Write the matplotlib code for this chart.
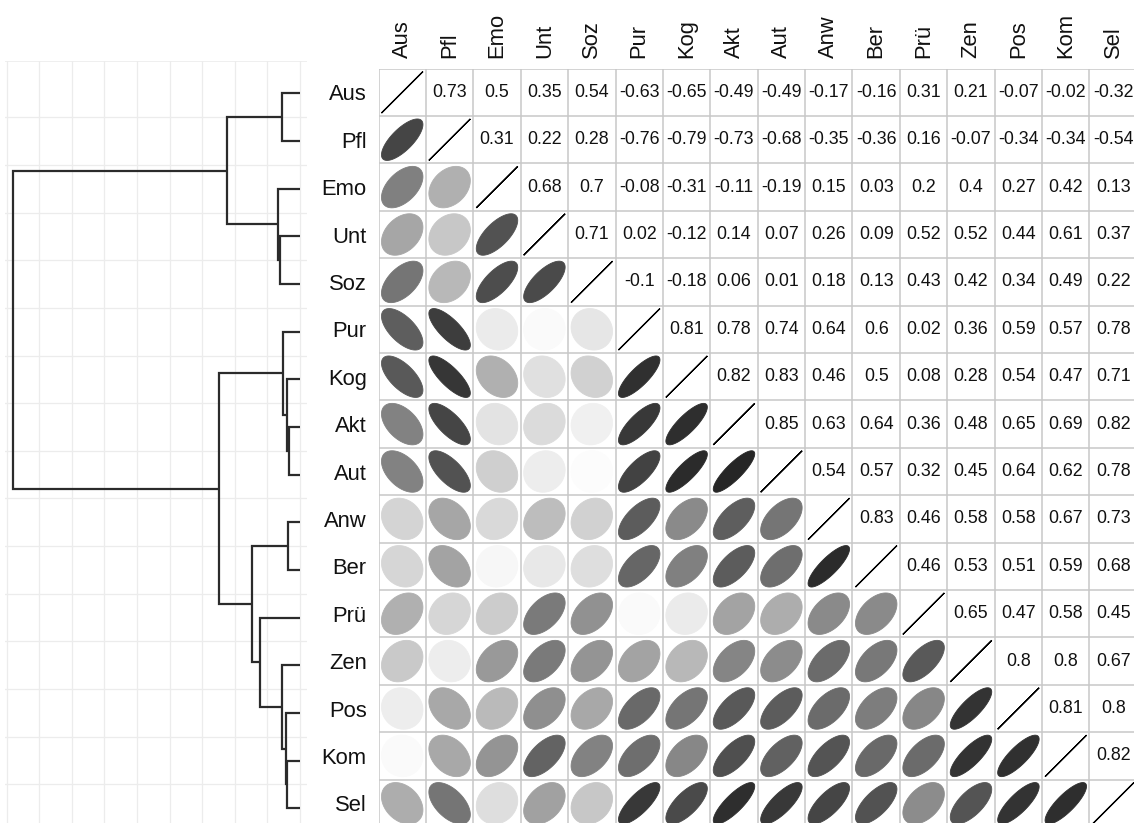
import numpy as np
import matplotlib
matplotlib.use("Agg")
import matplotlib.pyplot as plt
from matplotlib.patches import Polygon

plt.rcParams['font.family'] = ['Liberation Sans', 'DejaVu Sans']

labels = ["Aus", "Pfl", "Emo", "Unt", "Soz", "Pur", "Kog", "Akt",
          "Aut", "Anw", "Ber", "Prü", "Zen", "Pos", "Kom", "Sel"]

# upper-triangle correlations, row by row (columns to the right of the diagonal)
r_Aus = [0.73, 0.5, 0.35, 0.54, -0.63, -0.65, -0.49, -0.49, -0.17, -0.16, 0.31, 0.21, -0.07, -0.02, -0.32]
r_Pfl = [0.31, 0.22, 0.28, -0.76, -0.79, -0.73, -0.68, -0.35, -0.36, 0.16, -0.07, -0.34, -0.34, -0.54]
r_Emo = [0.68, 0.7, -0.08, -0.31, -0.11, -0.19, 0.15, 0.03, 0.2, 0.4, 0.27, 0.42, 0.13]
r_Unt = [0.71, 0.02, -0.12, 0.14, 0.07, 0.26, 0.09, 0.52, 0.52, 0.44, 0.61, 0.37]
r_Soz = [-0.1, -0.18, 0.06, 0.01, 0.18, 0.13, 0.43, 0.42, 0.34, 0.49, 0.22]
r_Pur = [0.81, 0.78, 0.74, 0.64, 0.6, 0.02, 0.36, 0.59, 0.57, 0.78]
r_Kog = [0.82, 0.83, 0.46, 0.5, 0.08, 0.28, 0.54, 0.47, 0.71]
r_Akt = [0.85, 0.63, 0.64, 0.36, 0.48, 0.65, 0.69, 0.82]
r_Aut = [0.54, 0.57, 0.32, 0.45, 0.64, 0.62, 0.78]
r_Anw = [0.83, 0.46, 0.58, 0.58, 0.67, 0.73]
r_Ber = [0.46, 0.53, 0.51, 0.59, 0.68]
r_Pru = [0.65, 0.47, 0.58, 0.45]
r_Zen = [0.8, 0.8, 0.67]
r_Pos = [0.81, 0.8]
r_Kom = [0.82]
r_Sel = []
upper_rows = [r_Aus, r_Pfl, r_Emo, r_Unt, r_Soz, r_Pur, r_Kog, r_Akt,
              r_Aut, r_Anw, r_Ber, r_Pru, r_Zen, r_Pos, r_Kom, r_Sel]

# hierarchical clustering merges: (child_a, child_b, height); leaves 0..15, new nodes 16..30
merges = [
    (7, 8, 0.35),    # 16
    (9, 10, 0.36),   # 17
    (6, 16, 0.39),   # 18
    (14, 15, 0.39),  # 19
    (13, 19, 0.43),  # 20
    (5, 18, 0.53),   # 21
    (0, 1, 0.56),    # 22
    (12, 20, 0.56),  # 23
    (3, 4, 0.61),    # 24
    (2, 24, 0.66),   # 25
    (11, 23, 1.23),  # 26
    (17, 26, 1.46),  # 27
    (22, 25, 2.23),  # 28
    (21, 27, 2.48),  # 29
    (28, 29, 8.81),  # 30
]

n = len(labels)
M = np.eye(n)
for i, row in enumerate(upper_rows):
    for k, v in enumerate(row):
        j = i + 1 + k
        M[i, j] = v
        M[j, i] = v

W, H = 1134, 823
fig = plt.figure(figsize=(W / 100, H / 100), dpi=100)
fig.patch.set_facecolor('white')

# ---------------- dendrogram ----------------
axd = fig.add_axes([5 / W, 0, 302 / W, (H - 61) / H])
axd.set_xlim(9.05, -0.215)
axd.set_ylim(15.31, -0.68)
for s in axd.spines.values():
    s.set_visible(False)
axd.set_xticks([])
axd.set_yticks([])
grid_c = '#ececec'
for h in range(0, 10):
    axd.axvline(h, color=grid_c, lw=0.9, zorder=0)
for y in np.arange(0.5, 15.0, 1.0):
    axd.axhline(y, color=grid_c, lw=0.9, zorder=0)
axd.axhline(-0.68, color=grid_c, lw=1.2, zorder=0)

pos_y = {i: float(i) for i in range(n)}
pos_h = {i: 0.0 for i in range(n)}
for idx, (a, b, h) in enumerate(merges):
    node = n + idx
    ya, yb = pos_y[a], pos_y[b]
    ha, hb = pos_h[a], pos_h[b]
    axd.plot([ha, h, h, hb], [ya, ya, yb, yb], color='#2b2b2b', lw=1.6,
             solid_capstyle='butt', solid_joinstyle='miter', zorder=2)
    pos_y[node] = (ya + yb) / 2
    pos_h[node] = h

# ---------------- correlation matrix ----------------
cell = 47.4
left_px, top_px = 378.5, 68.6
ax = fig.add_axes([left_px / W, (H - top_px - n * cell) / H, n * cell / W, n * cell / H])
ax.set_xlim(-0.5, n - 0.5)
ax.set_ylim(n - 0.5, -0.5)
ax.set_xticks([])
ax.set_yticks([])
for s in ax.spines.values():
    s.set_visible(False)

for b in np.arange(-0.5, n, 1.0):
    ax.axhline(b, color='#c8c8c8', lw=1.1, zorder=1)
    ax.axvline(b, color='#c8c8c8', lw=1.1, zorder=1)

t = np.linspace(0, 2 * np.pi, 120)
sc = 0.4375
for i in range(n):
    for j in range(n):
        r = M[i, j]
        if j > i:
            ax.text(j, i, f"{round(r, 2):g}", ha='center', va='center',
                    fontsize=12.8, color='#111111', zorder=3)
        else:
            d = np.arccos(np.clip(r, -1, 1))
            ex = np.cos(t + d / 2) * sc
            ey = np.cos(t - d / 2) * sc
            g = 1 - abs(r)
            col = (g, g, g)
            lw = 0.9 if i == j else 0.6
            poly = Polygon(np.column_stack([j + ex, i - ey]), closed=True,
                           facecolor=col, edgecolor=col if i != j else 'black',
                           lw=lw, zorder=2)
            ax.add_patch(poly)

for i, lab in enumerate(labels):
    ax.text(-0.5 - 11.8 / cell, i, lab, ha='right', va='center_baseline',
            fontsize=15.8, color='#111111', clip_on=False)
    ax.text(i, -0.5 - 10.3 / cell, lab, ha='center', va='bottom', rotation=90,
            fontsize=15.8, color='#111111', clip_on=False)

fig.savefig('out.png', dpi=100, facecolor='white')
